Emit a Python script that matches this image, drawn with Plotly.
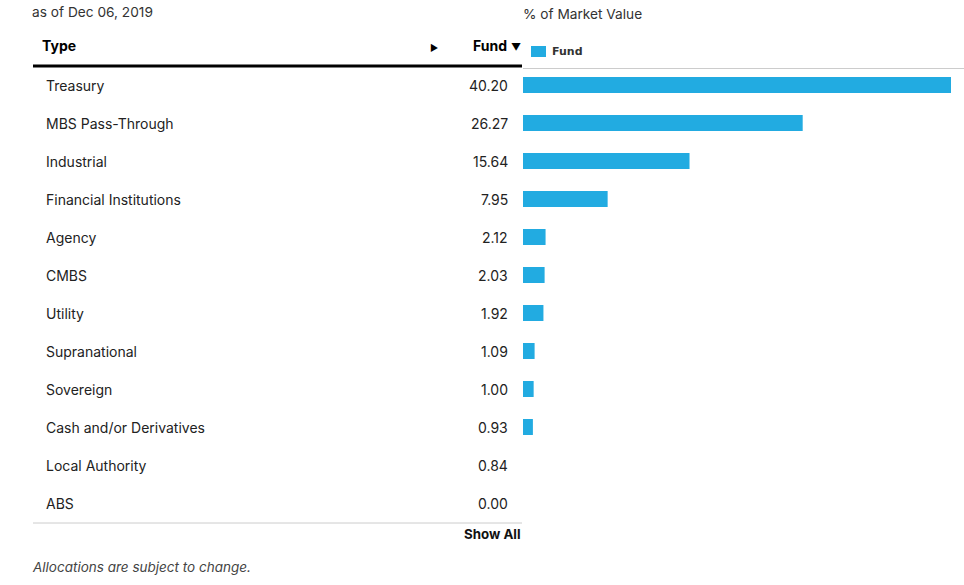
import plotly.graph_objs as go

types = ["Treasury", "MBS Pass-Through", "Industrial", "Financial Institutions", "Agency", "CMBS",
         "Utility", "Supranational", "Sovereign", "Cash and/or Derivatives", "Local Authority", "ABS"]
fund = [40.20, 26.27, 15.64, 7.95, 2.12, 2.03, 1.92, 1.09, 1.00, 0.93, 0.84, 0.00]
n_bars = 10  # chart only draws the top ten rows
as_of = "as of Dec 06, 2019"
footnote = "Allocations are subject to change."

W, H = 964, 585
FONT = "Inter"
TEXT = "#222222"
BLUE = "#22abe1"


def px_x(px):
    return px / W


def px_y(py):
    return 1 - py / H


fig = go.Figure()

fig.add_trace(go.Bar(
    x=fund[:n_bars], y=types[:n_bars], orientation="h", name="Fund",
    marker=dict(color=BLUE, line=dict(width=0)), width=0.42,
    hoverinfo="x+y", showlegend=False,
))

fig.update_layout(
    width=W, height=H, margin=dict(l=0, r=0, t=0, b=0),
    paper_bgcolor="white", plot_bgcolor="white",
    font=dict(family=FONT, color=TEXT, size=14),
    xaxis=dict(domain=[px_x(523), px_x(951)], range=[0, max(fund)], visible=False, fixedrange=True),
    yaxis=dict(domain=[px_y(522), px_y(66)], type="category", categoryorder="array",
               categoryarray=types, range=[len(types) - 0.5, -0.5], visible=False, fixedrange=True),
    showlegend=False,
)

# table rows: names on the left, values right-aligned next to the bars
for name, val in zip(types, fund):
    fig.add_annotation(x=px_x(44), y=name, xref="paper", yref="y", text=name, showarrow=False,
                       xanchor="left", yanchor="middle", font=dict(size=14, color=TEXT))
    fig.add_annotation(x=px_x(510), y=name, xref="paper", yref="y", text=f"{val:.2f}", showarrow=False,
                       xanchor="right", yanchor="middle", font=dict(size=14, color=TEXT))

# header
fig.add_annotation(x=px_x(30), y=px_y(12), xref="paper", yref="paper", text=as_of, showarrow=False,
                   xanchor="left", yanchor="middle", font=dict(size=13.7, color="#333333"))
fig.add_annotation(x=px_x(521), y=px_y(14), xref="paper", yref="paper", text="% of Market Value",
                   showarrow=False, xanchor="left", yanchor="middle", font=dict(size=13.7, color="#333333"))
fig.add_annotation(x=px_x(40), y=px_y(46), xref="paper", yref="paper", text="<b>Type</b>", showarrow=False,
                   xanchor="left", yanchor="middle", font=dict(size=14, color="#000000"))
fig.add_annotation(x=px_x(434), y=px_y(47), xref="paper", yref="paper", text="▶", showarrow=False,
                   xanchor="center", yanchor="middle", font=dict(size=9, color="#000000"))
fig.add_annotation(x=px_x(509), y=px_y(46), xref="paper", yref="paper", text="<b>Fund</b>", showarrow=False,
                   xanchor="right", yanchor="middle", font=dict(size=14, color="#000000"))
fig.add_annotation(x=px_x(516), y=px_y(47), xref="paper", yref="paper", text="▼", showarrow=False,
                   xanchor="center", yanchor="middle", font=dict(size=10, color="#000000"))

# legend swatch
fig.add_shape(type="rect", xref="paper", yref="paper", x0=px_x(531), x1=px_x(546), y0=px_y(46), y1=px_y(57),
              fillcolor=BLUE, line=dict(width=0))
fig.add_annotation(x=px_x(550), y=px_y(51.5), xref="paper", yref="paper", text="<b>Fund</b>", showarrow=False,
                   xanchor="left", yanchor="middle",
                   font=dict(family="DejaVu Sans", size=11, color="#333333"))

# rules
fig.add_shape(type="line", xref="paper", yref="paper", x0=px_x(33), x1=px_x(522), y0=px_y(66), y1=px_y(66),
              line=dict(color="#000000", width=3))
fig.add_shape(type="line", xref="paper", yref="paper", x0=px_x(523), x1=1, y0=px_y(68.5), y1=px_y(68.5),
              line=dict(color="#cccccc", width=1))
fig.add_shape(type="line", xref="paper", yref="paper", x0=px_x(33), x1=px_x(522), y0=px_y(523), y1=px_y(523),
              line=dict(color="#cccccc", width=1))

# footer
fig.add_annotation(x=px_x(523), y=px_y(534), xref="paper", yref="paper", text="<b>Show All</b>", showarrow=False,
                   xanchor="right", yanchor="middle", font=dict(size=13.3, color="#111111"))
fig.add_annotation(x=px_x(30), y=px_y(567), xref="paper", yref="paper", text=f"<i>{footnote}</i>",
                   showarrow=False, xanchor="left", yanchor="middle", font=dict(size=13.5, color="#444444"))

# drop the default 8px body margin so the figure fills the window from its corner
fig.write_html("out.html", config=dict(displayModeBar=False),
               post_script="document.body.style.margin = '0px';")
